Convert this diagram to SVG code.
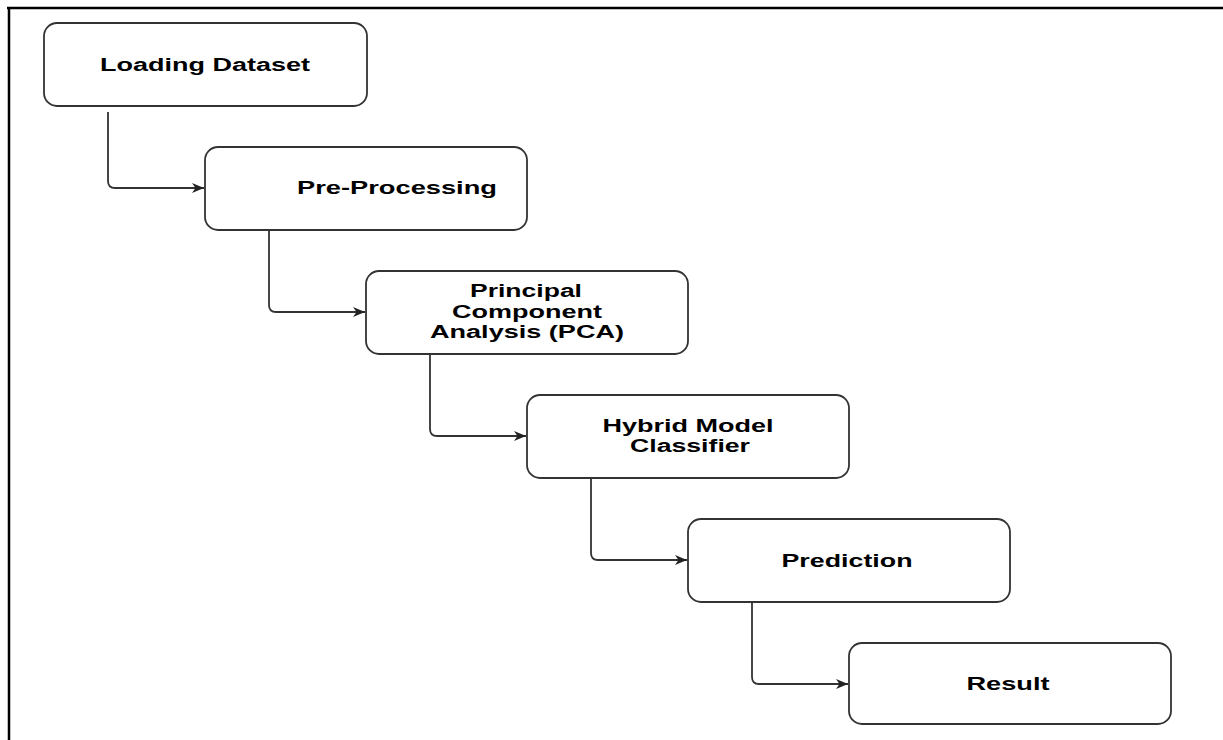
<svg xmlns="http://www.w3.org/2000/svg" width="1223" height="740" viewBox="0 0 1223 740">
<style>
.box{fill:#fff;stroke:#333;stroke-width:1.8}
.lbl{font-family:"Liberation Sans",Arial,sans-serif;font-weight:bold;font-size:18px;fill:#000}
.con{fill:none;stroke:#333;stroke-width:1.8}
</style>
<defs>
<marker id="arr" markerWidth="14" markerHeight="12" refX="12" refY="5" orient="auto" markerUnits="userSpaceOnUse">
<path d="M0,0 L12,5 L0,10 L3.5,5 Z" fill="#222"/>
</marker>
</defs>
<rect width="1223" height="740" fill="#fff"/>
<g id="frame">
<line x1="7" y1="8" x2="1223" y2="8" stroke="#000" stroke-width="2.5"/>
<line x1="9" y1="7" x2="9" y2="740" stroke="#000" stroke-width="2.5"/>
</g>
<g id="connectors">
<path class="con" d="M108,112 V181 Q108,188 115,188 H204" marker-end="url(#arr)"/>
<path class="con" d="M269,230 V305 Q269,312 276,312 H365" marker-end="url(#arr)"/>
<path class="con" d="M430,354 V429 Q430,436 437,436 H526" marker-end="url(#arr)"/>
<path class="con" d="M591,478 V553 Q591,560 598,560 H687" marker-end="url(#arr)"/>
<path class="con" d="M752,602 V677 Q752,684 759,684 H848" marker-end="url(#arr)"/>
</g>
<g id="n1">
<rect class="box" x="44" y="23" width="323" height="83" rx="13"/>
<text class="lbl" x="205" y="71" text-anchor="middle" textLength="210" lengthAdjust="spacingAndGlyphs">Loading Dataset</text>
</g>
<g id="n2">
<rect class="box" x="205" y="147" width="322" height="83" rx="13"/>
<text class="lbl" x="397" y="194" text-anchor="middle" textLength="200" lengthAdjust="spacingAndGlyphs">Pre-Processing</text>
</g>
<g id="n3">
<rect class="box" x="366" y="271" width="322" height="83" rx="13"/>
<text class="lbl" x="526" y="297" text-anchor="middle" textLength="112" lengthAdjust="spacingAndGlyphs">Principal</text>
<text class="lbl" x="527" y="318" text-anchor="middle" textLength="150" lengthAdjust="spacingAndGlyphs">Component</text>
<text class="lbl" x="527" y="338" text-anchor="middle" textLength="194" lengthAdjust="spacingAndGlyphs">Analysis (PCA)</text>
</g>
<g id="n4">
<rect class="box" x="527" y="395" width="322" height="83" rx="13"/>
<text class="lbl" x="688" y="432" text-anchor="middle" textLength="171" lengthAdjust="spacingAndGlyphs">Hybrid Model</text>
<text class="lbl" x="690" y="452" text-anchor="middle" textLength="120" lengthAdjust="spacingAndGlyphs">Classifier</text>
</g>
<g id="n5">
<rect class="box" x="688" y="519" width="322" height="83" rx="13"/>
<text class="lbl" x="847" y="567" text-anchor="middle" textLength="131" lengthAdjust="spacingAndGlyphs">Prediction</text>
</g>
<g id="n6">
<rect class="box" x="849" y="643" width="322" height="81" rx="13"/>
<text class="lbl" x="1008" y="690" text-anchor="middle" textLength="83" lengthAdjust="spacingAndGlyphs">Result</text>
</g>
</svg>
